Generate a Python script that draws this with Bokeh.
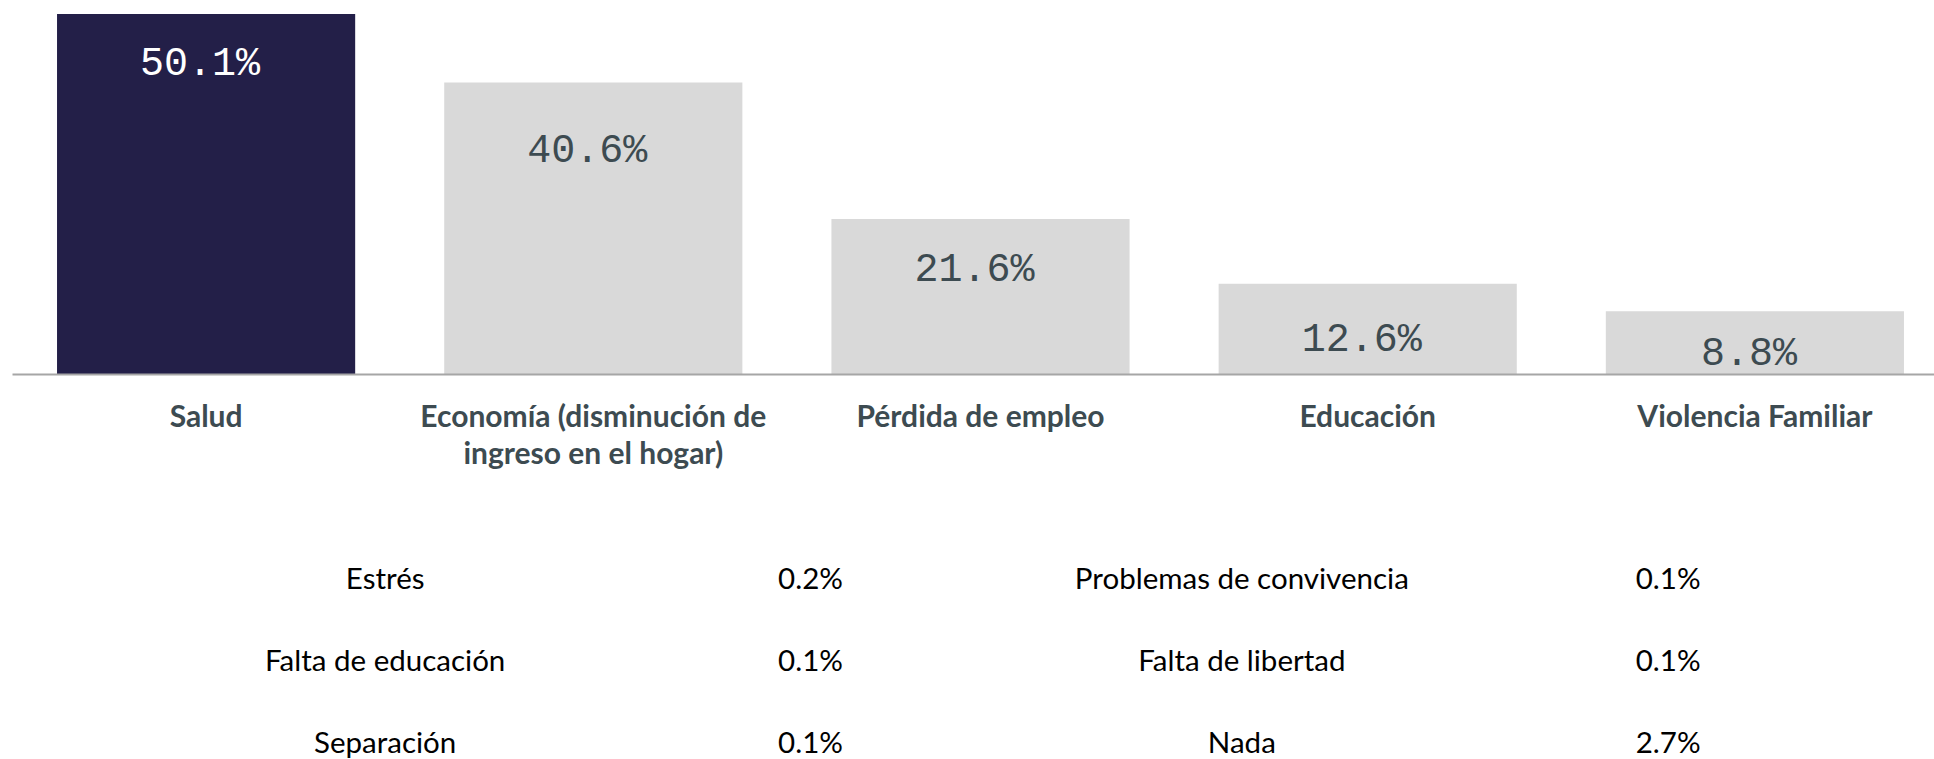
from bokeh.plotting import figure
from bokeh.layouts import column
from bokeh.models import Range1d, FixedTicker
from bokeh.core.properties import value
from bokeh.embed import file_html
from bokeh.resources import INLINE

# ---- data ----
categories = ["Salud", "Economía (disminución de\ningreso en el hogar)", "Pérdida de empleo",
              "Educación", "Violencia Familiar"]
percentages = [50.1, 40.6, 21.6, 12.6, 8.8]

other_left_labels = ["Estrés", "Falta de educación", "Separación"]
other_left_values = [0.2, 0.1, 0.1]
other_right_labels = ["Problemas de convivencia", "Falta de libertad", "Nada"]
other_right_values = [0.1, 0.1, 2.7]

# ---- style ----
DARK = "#231f48"
GREY = "#d9d9d9"
TEXT = "#3d4b51"
W = 1934
H1, H2 = 500, 259
TOP = 8
FRAME_H1 = 366
Y_END = 50.88
label_dy_px = [50, 69, 51, 57, 43]   # distance of value label below bar top

xs = [i + 0.5 for i in range(len(categories))]
colors = [DARK if v == max(percentages) else GREY for v in percentages]
txt_colors = ["white" if v == max(percentages) else TEXT for v in percentages]
px_per_unit = FRAME_H1 / Y_END
label_y = [v - d / px_per_unit for v, d in zip(percentages, label_dy_px)]
labels = [f"{v:.1f}%" for v in percentages]

p = figure(width=W, height=H1, x_range=Range1d(0, (W - 12) / 387.2), y_range=Range1d(0, Y_END),
           output_backend="svg", toolbar_location=None, y_axis_location=None,
           min_border_left=12, min_border_right=0, min_border_top=TOP,
           min_border_bottom=H1 - FRAME_H1 - TOP)
p.outline_line_color = None
p.grid.visible = False
p.background_fill_color = "white"
p.border_fill_color = "white"

p.vbar(x=xs, top=percentages, bottom=0, width=0.77, fill_color=colors, line_color=None)
p.text(x=xs, y=label_y, text=labels, text_color=txt_colors, text_align="center",
       text_baseline="middle", text_font=value("Liberation Mono"), text_font_size="40px",
       x_offset=-6)

ax = p.xaxis[0]
ax.ticker = FixedTicker(ticks=xs)
ax.major_label_overrides = {x: c for x, c in zip(xs, categories)}
ax.axis_line_color = "#a6a6a6"
ax.axis_line_width = 2
ax.major_tick_line_color = None
ax.minor_tick_line_color = None
ax.major_label_text_font = "Lato"
ax.major_label_text_font_style = "bold"
ax.major_label_text_font_size = "30px"
ax.major_label_text_color = TEXT
ax.major_label_text_line_height = 1.05
ax.major_label_standoff = 16

# ---- table of other answers ----
t = figure(width=W, height=H2, x_range=Range1d(0, W), y_range=Range1d(2.22, -0.939),
           output_backend="svg", toolbar_location=None, x_axis_location=None, y_axis_location=None,
           min_border_left=0, min_border_right=0, min_border_top=0, min_border_bottom=0)
t.outline_line_color = None
t.grid.visible = False
t.border_fill_color = "white"
rows = list(range(len(other_left_labels)))
for lab_x, val_x, labs, vals in [(375, 803, other_left_labels, other_left_values),
                                 (1237, 1666, other_right_labels, other_right_values)]:
    t.text(x=[lab_x] * len(labs), y=rows, text=labs, text_align="center", text_baseline="middle",
           text_font=value("Lato"), text_font_size="29.5px", text_color="black")
    t.text(x=[val_x] * len(vals), y=rows, text=[f"{v:.1f}%" for v in vals], text_align="center",
           text_baseline="middle", text_font=value("Lato"), text_font_size="29.5px", text_color="black")

layout = column(p, t, spacing=0)
open("out.html", "w").write(file_html(layout, INLINE))
